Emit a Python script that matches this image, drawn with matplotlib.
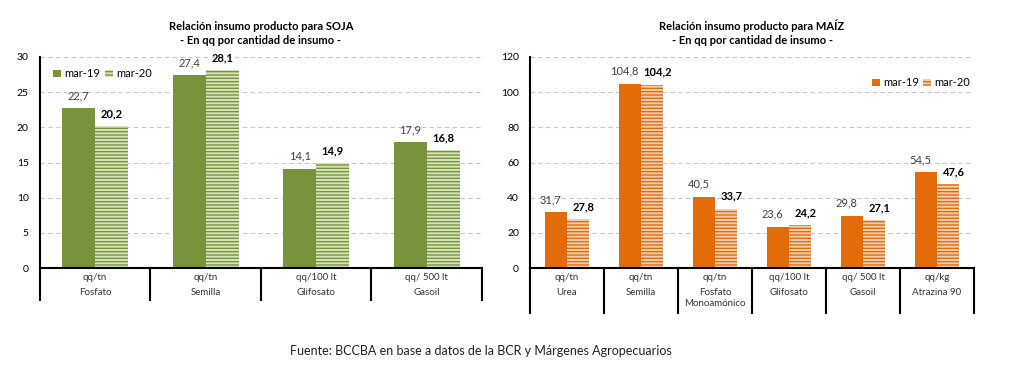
import matplotlib.pyplot as plt
import numpy as np

plt.rcParams['font.family'] = ['Lato', 'DejaVu Sans']
plt.rcParams['hatch.linewidth'] = 1.0

# data
soja_units = ['qq/tn', 'qq/tn', 'qq/100 lt', 'qq/ 500 lt']
soja_names = ['Fosfato', 'Semilla', 'Glifosato', 'Gasoil']
soja_19 = [22.7, 27.4, 14.1, 17.9]
soja_20 = [20.2, 28.1, 14.9, 16.8]

maiz_units = ['qq/tn', 'qq/tn', 'qq/tn', 'qq/100 lt', 'qq/ 500 lt', 'qq/kg']
maiz_names = ['Urea', 'Semilla', 'Fosfato\nMonoamónico', 'Glifosato', 'Gasoil', 'Atrazina 90']
maiz_19 = [31.7, 104.8, 40.5, 23.6, 29.8, 54.5]
maiz_20 = [27.8, 104.2, 33.7, 24.2, 27.1, 47.6]

series = ['mar-19', 'mar-20']

fig = plt.figure(figsize=(10.24, 3.75), dpi=100)


def draw(ax, units, names, v19, v20, col, light, ymax, step, title, box_depth,
         leg_anchor, dx):
    n = len(names)
    x = np.arange(n)
    w = 0.3
    ax.bar(x - w / 2, v19, w, color=col, linewidth=0, label=series[0])
    ax.bar(x + w / 2, v20, w, facecolor=light, edgecolor=col, linewidth=0,
           hatch='-----', label=series[1])
    for xi, v in zip(x, v19):
        ax.annotate(f'{v:.1f}'.replace('.', ','), (xi - w / 2, v), xytext=(-dx, 5),
                    textcoords='offset points', ha='center', va='bottom',
                    fontsize=8, color='#404040')
    for xi, v in zip(x, v20):
        ax.annotate(f'{v:.1f}'.replace('.', ','), (xi + w / 2, v), xytext=(dx, 5),
                    textcoords='offset points', ha='center', va='bottom',
                    fontsize=8, color='black', fontweight='bold')
    ax.set_xlim(-0.5, n - 0.5)
    ax.set_ylim(0, ymax)
    ax.set_yticks(np.arange(0, ymax + 1, step))
    ax.tick_params(axis='y', length=0, labelsize=7.5, pad=8)
    ax.set_xticks([])
    for yv in np.arange(step, ymax + 1, step):
        ax.axhline(yv, color='#c8c8c8', lw=0.8, ls=(0, (4, 3)), zorder=0)
    for s in ['top', 'right']:
        ax.spines[s].set_visible(False)
    ax.spines['left'].set_linewidth(1.5)
    ax.spines['bottom'].set_linewidth(1.5)
    tr = ax.get_xaxis_transform()
    for b in np.arange(-0.5, n, 1.0):
        ax.plot([b, b], [0, -box_depth], transform=tr, color='black', lw=1.5,
                clip_on=False)
    for xi, u, nm in zip(x, units, names):
        ax.text(xi, -0.025, u, transform=tr, ha='center', va='top', fontsize=7,
                color='#333333')
        ax.text(xi, -0.095, nm, transform=tr, ha='center', va='top', fontsize=7,
                color='#333333', linespacing=1.3)
    ax.set_title(title, fontsize=8, fontweight='bold', pad=9, linespacing=1.4)
    ax.legend(loc='center left', bbox_to_anchor=leg_anchor, frameon=False,
              fontsize=8, ncol=2, handlelength=0.7, handleheight=0.7,
              columnspacing=0.4, handletextpad=0.3, borderaxespad=0.0)


ax1 = fig.add_axes([0.039, 0.2853, 0.4316, 0.5627])
draw(ax1, soja_units, soja_names, soja_19, soja_20, '#77933c', '#d6e3bc', 30, 5,
     'Relación insumo producto para SOJA\n- En qq por cantidad de insumo -', 0.152,
     (0.02, 0.92), 0)

ax2 = fig.add_axes([0.5176, 0.2853, 0.4336, 0.5627])
draw(ax2, maiz_units, maiz_names, maiz_19, maiz_20, '#e36c09', '#f2cfb3', 120, 20,
     'Relación insumo producto para MAÍZ\n- En qq por cantidad de insumo -', 0.213,
     (0.76, 0.877), 4)

fig.text(0.47, 0.065, 'Fuente: BCCBA en base a datos de la BCR y Márgenes Agropecuarios',
         ha='center', va='center', fontsize=9, color='#222222')

fig.savefig('out.png', dpi=100)
